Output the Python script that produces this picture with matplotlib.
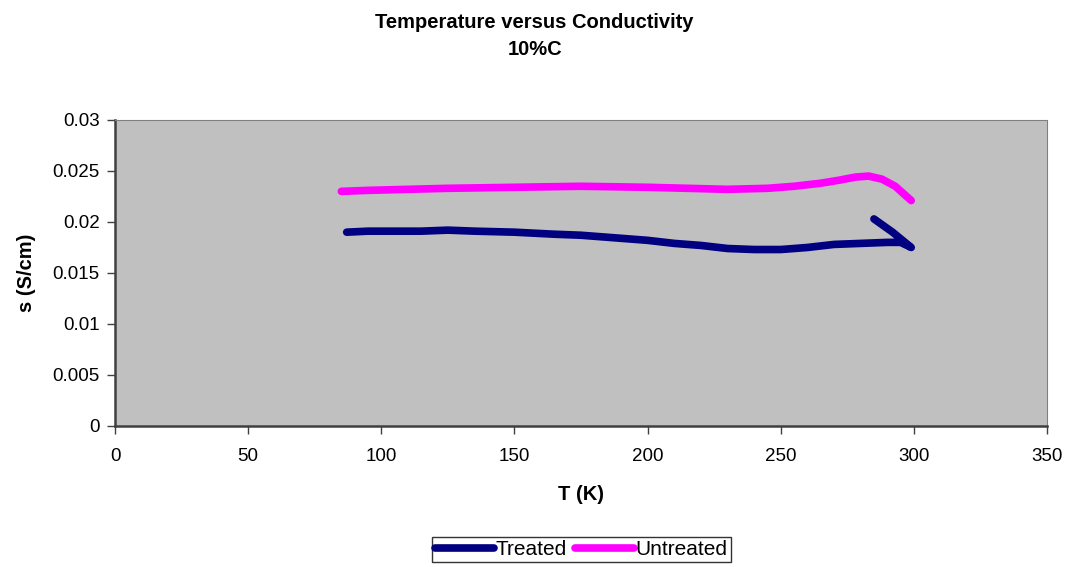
import matplotlib.pyplot as plt

plt.rcParams['font.family'] = ['Liberation Sans', 'DejaVu Sans']

# Treated sample (cooling curve then hook back up at the end)
treated_T = [87, 95, 105, 115, 125, 135, 150, 165, 175, 190, 200, 210, 220, 230,
             240, 250, 260, 270, 280, 290, 295, 299, 292, 285]
treated_s = [0.0190, 0.0191, 0.0191, 0.0191, 0.0192, 0.0191, 0.0190, 0.0188, 0.0187,
             0.0184, 0.0182, 0.0179, 0.0177, 0.0174, 0.0173, 0.0173, 0.0175, 0.0178,
             0.0179, 0.0180, 0.0180, 0.0175, 0.0190, 0.0203]

# Untreated sample
untreated_T = [85, 95, 110, 125, 150, 175, 200, 215, 230, 245, 255, 265, 272, 278,
               283, 288, 293, 299]
untreated_s = [0.0230, 0.0231, 0.0232, 0.0233, 0.0234, 0.0235, 0.0234, 0.0233, 0.0232,
               0.0233, 0.0235, 0.0238, 0.0241, 0.0244, 0.0245, 0.0242, 0.0235, 0.0221]

fig = plt.figure(figsize=(10.67, 5.67), dpi=100)
ax = fig.add_axes([0.1078, 0.2487, 0.8735, 0.5397])
ax.set_facecolor('#c0c0c0')

ax.plot(treated_T, treated_s, color='#000080', lw=5.5, solid_capstyle='round',
        solid_joinstyle='round', label='Treated')
ax.plot(untreated_T, untreated_s, color='#ff00ff', lw=5.5, solid_capstyle='round',
        solid_joinstyle='round', label='Untreated')

ax.set_xlim(0, 350)
ax.set_ylim(0, 0.03)
ax.set_xticks(range(0, 351, 50))
ax.set_yticks([0, 0.005, 0.01, 0.015, 0.02, 0.025, 0.03])
ax.set_yticklabels(['0', '0.005', '0.01', '0.015', '0.02', '0.025', '0.03'])
ax.tick_params(labelsize=13.5, direction='out', length=6, width=1, color='#404040', pad=5)
ax.tick_params(axis='x', pad=10)

for side in ['top', 'right']:
    ax.spines[side].set_color('#808080')
for side in ['left', 'bottom']:
    ax.spines[side].set_color('#404040')
    ax.spines[side].set_linewidth(1.8)

ax.set_xlabel('T (K)', fontsize=14.5, fontweight='bold', labelpad=14)
ax.set_ylabel('s (S/cm)', fontsize=14.5, fontweight='bold', labelpad=12)

fig.text(0.501, 0.961, 'Temperature versus Conductivity', ha='center', va='center',
         fontsize=14.5, fontweight='bold')
fig.text(0.501, 0.912, '10%C', ha='center', va='center', fontsize=14.5, fontweight='bold')

leg = fig.legend(loc='upper center', bbox_to_anchor=(0.545, 0.053), ncol=2,
                 fontsize=15, frameon=True, fancybox=False, edgecolor='black',
                 handlelength=2.8, handletextpad=0.1, columnspacing=0.4,
                 borderpad=0.15, borderaxespad=0)
leg.get_frame().set_linewidth(1)

fig.savefig('out.png', dpi=100)
